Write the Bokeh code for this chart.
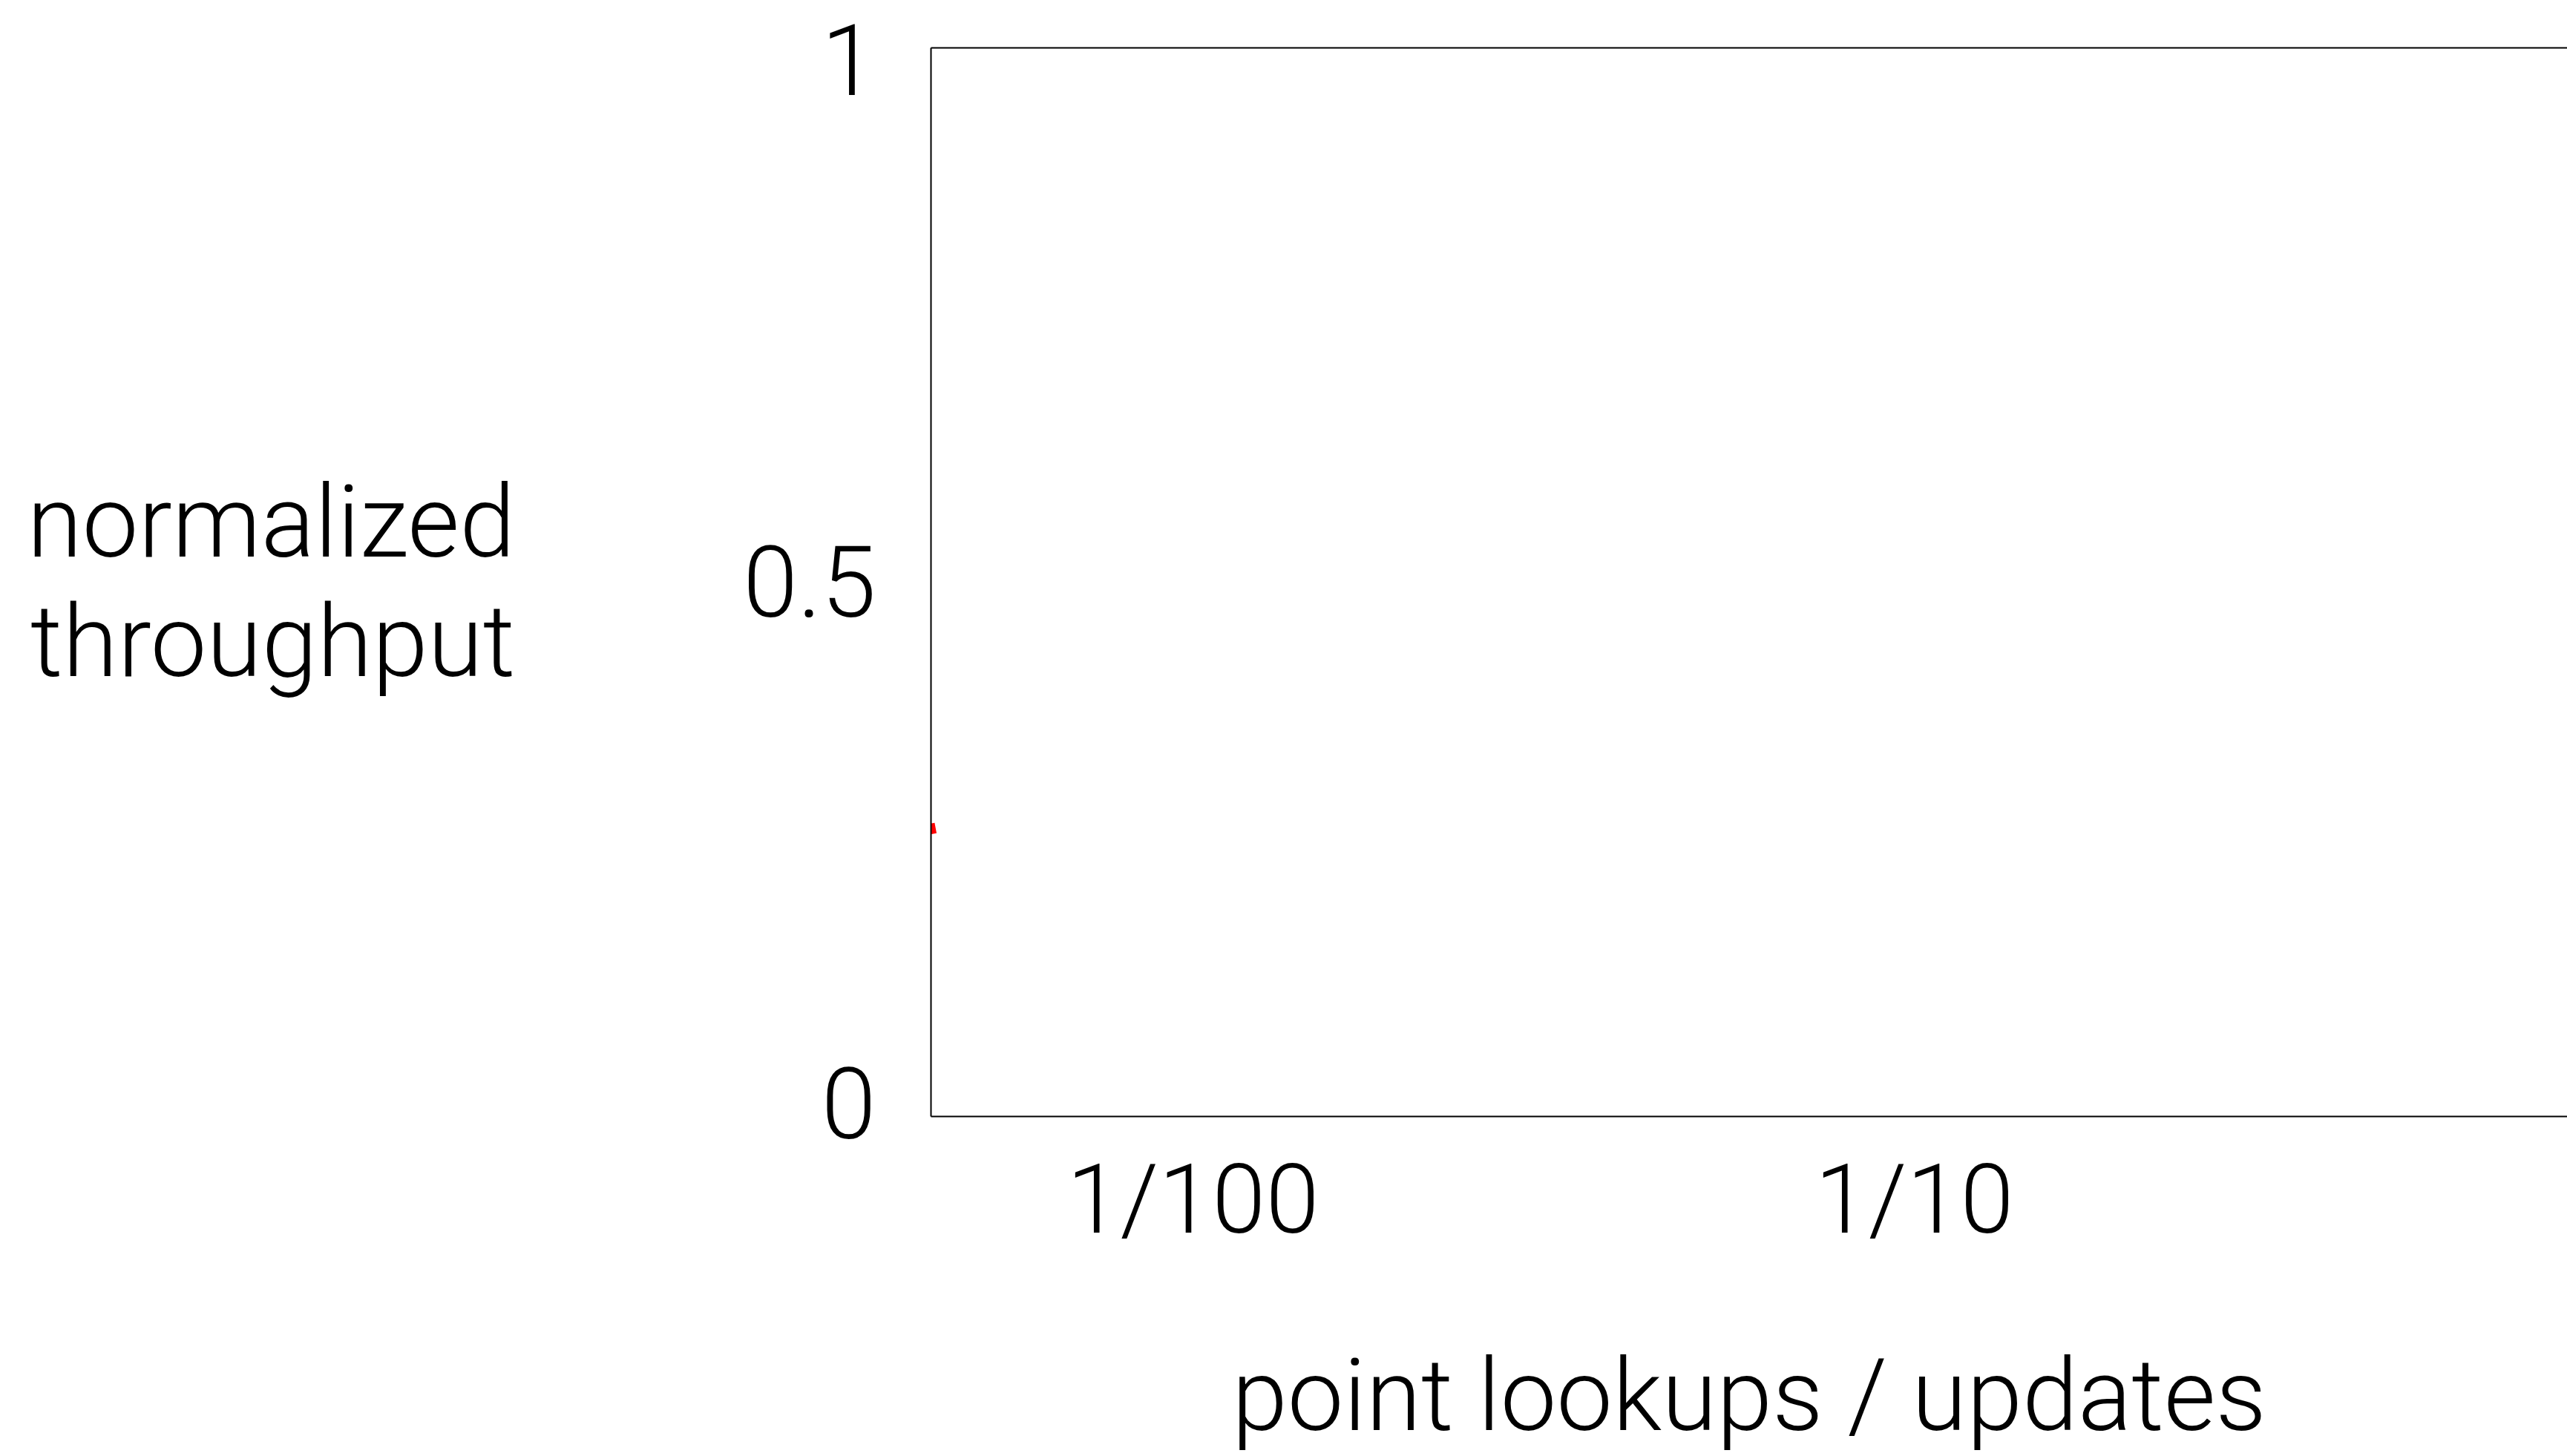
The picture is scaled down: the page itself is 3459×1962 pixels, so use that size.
from bokeh.plotting import figure
from bokeh.models import FixedTicker, LinearAxis, Range1d, ColumnDataSource
from bokeh.embed import file_html
from bokeh.resources import INLINE

# ---- data ----
x_ticks = [0.01, 0.1]
x_tick_labels = ["1/100", "1/10"]
y_ticks = [0, 0.5, 1]
y_tick_labels = ["0", "0.5", "1"]
x_min, x_max = 0.004333, 0.804
y_min, y_max = -0.0128, 1.0114

# only the very start of the red series is visible
red_x = [0.004333, 0.00436]
red_y = [0.268, 0.258]

FONT = "Roboto Light"

p = figure(width=3459, height=1962, x_axis_type="log",
           x_range=Range1d(x_min, x_max), y_range=Range1d(y_min, y_max),
           output_backend="svg", toolbar_location=None,
           min_border_left=1254, min_border_right=0,
           min_border_top=64, min_border_bottom=454)
p.grid.visible = False
p.outline_line_color = None
p.background_fill_color = "white"
p.border_fill_color = "white"

src = ColumnDataSource(dict(x=red_x, y=red_y))
p.line("x", "y", source=src, line_color="red", line_width=10)

# x axis
xa = p.xaxis[0]
xa.ticker = FixedTicker(ticks=x_ticks)
xa.major_label_overrides = {t: l for t, l in zip(x_ticks, x_tick_labels)}
xa.major_tick_line_color = None
xa.minor_tick_line_color = None
xa.major_tick_out = 0
xa.major_tick_in = 0
xa.minor_tick_out = 0
xa.axis_line_width = 2
xa.axis_line_color = "black"
xa.major_label_text_font = FONT
xa.major_label_text_font_size = "130px"
xa.major_label_text_color = "black"
xa.major_label_standoff = 35
xa.axis_label = "point lookups / updates"
xa.axis_label_text_font = FONT
xa.axis_label_text_font_size = "135px"
xa.axis_label_text_font_style = "normal"
xa.axis_label_text_color = "black"
xa.axis_label_standoff = 106

# y axis
ya = p.yaxis[0]
ya.ticker = FixedTicker(ticks=y_ticks)
ya.major_label_overrides = {t: l for t, l in zip(y_ticks, y_tick_labels)}
ya.major_tick_line_color = None
ya.minor_tick_line_color = None
ya.major_tick_out = 0
ya.major_tick_in = 0
ya.minor_tick_out = 0
ya.axis_line_width = 2
ya.axis_line_color = "black"
ya.major_label_text_font = FONT
ya.major_label_text_font_size = "133px"
ya.major_label_text_color = "black"
ya.major_label_standoff = 74
ya.axis_label = "normalized\nthroughput"
ya.axis_label_orientation = "horizontal"
ya.axis_label_text_font = FONT
ya.axis_label_text_font_size = "135px"
ya.axis_label_text_font_style = "normal"
ya.axis_label_text_color = "black"
ya.axis_label_text_line_height = 1.02
ya.axis_label_standoff = 304

# top frame line
top = LinearAxis(ticker=FixedTicker(ticks=[]), axis_line_width=2, axis_line_color="black",
                 major_tick_out=0, major_tick_in=0, minor_tick_out=0, minor_tick_in=0,
                 major_label_standoff=0, major_label_text_font_size="0px")
p.add_layout(top, "above")

open("out.html", "w").write(file_html(p, INLINE))
